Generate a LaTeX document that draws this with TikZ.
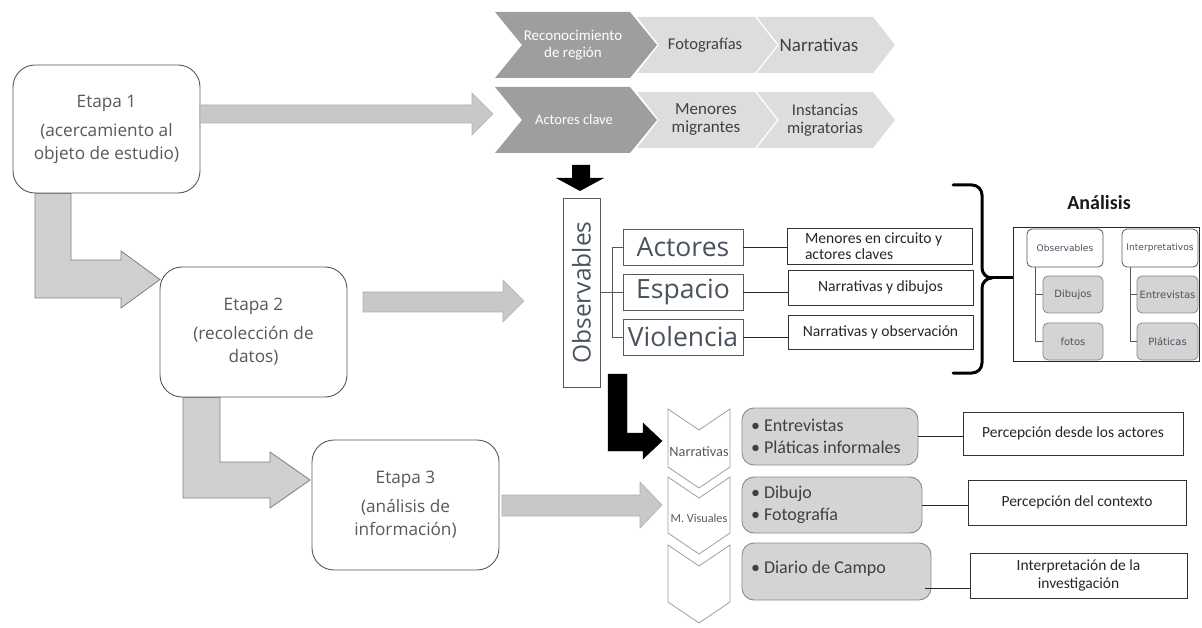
\documentclass[tikz,border=0pt]{standalone}
\usepackage{fontspec}
\setmainfont{Carlito}
\newfontfamily\osans{Open Sans}
\newfontfamily\dvs{DejaVu Sans}
\usetikzlibrary{calc}

\definecolor{chevdark}{HTML}{9E9E9E}
\definecolor{chevlight}{HTML}{DDDDDD}
\definecolor{blockfill}{HTML}{C8C8C8}
\definecolor{blockline}{HTML}{B0B0B0}
\definecolor{lfill}{HTML}{D0D0D0}
\definecolor{lline}{HTML}{7F7F7F}
\definecolor{txtgray}{HTML}{595959}
\definecolor{txtslate}{HTML}{4A535D}
\definecolor{boxfill}{HTML}{D4D4D4}
\definecolor{boxline}{HTML}{8A8A8A}

\newcommand{\fsz}[2]{\fontsize{#1}{#2}\selectfont}

\tikzset{
  plain/.style={inner sep=0pt, outer sep=0pt},
  etapabox/.style={plain, draw=txtgray, line width=0.9pt, rounded corners=22pt,
    fill=white, align=center, text=txtgray, font=\osans\fsz{17.2}{23}},
  obsbox/.style={plain, draw=txtgray, line width=0.9pt, fill=white},
  bigword/.style={plain, text=txtslate, font=\osans\fsz{24.5}{26}},
  catbox/.style={plain, draw=txtgray, line width=0.9pt, fill=white,
    text=txtslate, font=\osans\fsz{26.5}{28}},
  descbox/.style={plain, draw=black!80, line width=0.9pt, fill=white,
    text=black!85, font=\fsz{15.6}{16}},
  link/.style={draw=black!85, line width=0.9pt},
  darktxt/.style={plain, align=center, text=white, font=\fsz{15}{17}},
  lighttxt/.style={plain, align=center, text=black!75, font=\fsz{16.5}{18}},
  block/.style={fill=blockfill, draw=blockline, line width=0.6pt},
  lblock/.style={fill=lfill, draw=lline, line width=0.8pt},
  anaw/.style={plain, draw=txtgray, line width=0.8pt, fill=white, rounded corners=5pt,
    text=txtslate, font=\dvs\fsz{9.1}{10}},
  anag/.style={plain, draw=boxline, line width=0.8pt, fill=boxfill, rounded corners=5pt,
    text=txtslate, font=\dvs\fsz{10}{12}},
  chevlab/.style={plain, text=txtgray},
  graybox/.style={plain, draw=boxline, line width=0.9pt, fill=boxfill, rounded corners=12pt},
  graytxt/.style={plain, align=left, anchor=west, text=black!75, font=\fsz{18}{22}},
  percbox/.style={plain, draw=black!80, line width=0.9pt, fill=white, align=center,
    text=black!85, font=\fsz{15.5}{18}},
  vchev/.style={fill=white, draw=gray!75, line width=0.8pt},
}

\begin{document}
\begin{tikzpicture}[x=1pt, y=-1pt]
\useasboundingbox (0,0) rectangle (1202,628);

% ---------- top process chevrons ----------
\fill[chevdark] (495,12) -- (630,12) -- (657,45) -- (630,78) -- (495,78) -- (522,45) -- cycle;
\fill[chevlight] (637,17) -- (755,17) -- (777,45) -- (755,73) -- (637,73) -- (659,45) -- cycle;
\fill[chevlight] (757,17) -- (873,17) -- (895,45) -- (873,73) -- (757,73) -- (779,45) -- cycle;
\fill[chevdark] (495,87) -- (630,87) -- (657,120) -- (630,153) -- (495,153) -- (522,120) -- cycle;
\fill[chevlight] (637,92) -- (755,92) -- (777,120) -- (755,148) -- (637,148) -- (659,120) -- cycle;
\fill[chevlight] (757,92) -- (873,92) -- (895,120) -- (873,148) -- (757,148) -- (779,120) -- cycle;

\node[darktxt] (reco) at (573,45) {Reconocimiento\\de región};
\node[lighttxt] (foto) at (705,45) {Fotografías};
\node[lighttxt, font=\fsz{19}{20}] (narr) at (819,45) {Narrativas};
\node[darktxt, font=\fsz{14.5}{17}] (actc) at (574,120) {Actores clave};
\node[lighttxt, font=\fsz{17}{18}] (meno) at (706,120) {Menores\\migrantes};
\node[lighttxt] (inst) at (825,120) {Instancias\\migratorias};

% ---------- stages ----------
\node[etapabox, minimum width=187pt, minimum height=128pt] (e1) at (106.5,129)
  {Etapa 1\\[6pt](acercamiento al\\objeto de estudio)};
\node[etapabox, minimum width=187pt, minimum height=130pt] (e2) at (253.5,332)
  {Etapa 2\\[6pt](recolección de\\datos)};
\node[etapabox, minimum width=187pt, minimum height=130pt] (e3) at (405.5,505)
  {Etapa 3\\[6pt](análisis de\\información)};

% block arrows out of the stages
\draw[block] (200,105) -- (472,105) -- (472,93) -- (493,114) -- (472,135) -- (472,123) -- (200,123) -- cycle;
\draw[block] (363,292) -- (503,292) -- (503,280) -- (524,301) -- (503,322) -- (503,312) -- (363,312) -- cycle;
\draw[block] (502,495) -- (640,495) -- (640,482) -- (662,505) -- (640,528) -- (640,516) -- (502,516) -- cycle;

% bent arrows between stages
\draw[lblock] (35,193.5) -- (71,193.5) -- (71,260) -- (121,260) -- (121,251) -- (160,279.5) -- (121,308) -- (121,298) -- (35,298) -- cycle;
\draw[lblock] (183,397.5) -- (220,397.5) -- (220,462) -- (270,462) -- (270,452) -- (310,480) -- (270,508) -- (270,498) -- (183,498) -- cycle;

% ---------- observables ----------
\fill[black] (572,165) -- (590,165) -- (590,178) -- (604,178) -- (580,191) -- (556,178) -- (572,178) -- cycle;
\node[obsbox, minimum width=37pt, minimum height=189pt] (obs) at (581.5,292.5) {};
\node[bigword, rotate=90] (obslab) at (obs.center) {Observables};

\node[catbox, minimum width=120pt, minimum height=36pt] (act) at (683,247) {Actores};
\node[catbox, minimum width=120pt, minimum height=36pt] (esp) at (683,292) {Espacio};
\node[catbox, minimum width=120pt, minimum height=36pt] (vio) at (683,337) {Violencia};

\draw[link, draw=txtgray] (obs.east) -- (obs.east -| esp.west);
\draw[link, draw=txtgray] (act.west) -- ++(-11,0) |- (vio.west);

\node[descbox, minimum width=185pt, minimum height=36pt] (men) at (879.5,246) {};
\node[plain, align=left, anchor=west, text=black!85, font=\fsz{15.6}{15.5}] (mentxt) at (805,246)
  {Menores en circuito y\\actores claves};
\node[descbox, minimum width=185pt, minimum height=35pt] (nyd) at (880.5,287.5) {Narrativas y dibujos};
\node[descbox, minimum width=185pt, minimum height=34pt] (nyo) at (880.5,332) {Narrativas y observación};

\draw[link] (act.east) -- (act.east -| men.west);
\draw[link] (esp.east) -- (esp.east -| nyd.west);
\draw[link] (vio.east) -- (vio.east -| nyo.west);

% brace gathering the observables
\draw[line width=3pt, line cap=round, line join=round]
  (953,185) -- (972,185) to[out=0,in=90] (982,195) -- (982,268)
  to[out=-90,in=180] (992,278) to[out=180,in=90] (982,288) -- (982,363)
  to[out=-90,in=0] (972,373) -- (953,373);
\coordinate (btip) at (990,278);

% ---------- analysis block ----------
\node[plain, font=\bfseries\fsz{20}{22}, text=black!90] (anat) at (1099,203) {Análisis};
\node[plain, draw=black!85, line width=1pt, fill=white, minimum width=186pt, minimum height=133pt] (ana) at (1106,294.5) {};
\draw[line width=3pt] (btip) -- (btip -| ana.west);

\node[anaw, minimum width=76pt, minimum height=38pt] (aobs) at (1065,248) {Observables};
\node[anaw, minimum width=76pt, minimum height=38pt] (aint) at (1160,248) {Interpretativos};
\node[anag, minimum width=60pt, minimum height=37pt] (adib) at (1073,294.5) {Dibujos};
\node[anag, minimum width=60pt, minimum height=37pt] (afot) at (1073,341.5) {fotos};
\node[anag, minimum width=61pt, minimum height=37pt] (aent) at (1167.5,294.5) {Entrevistas};
\node[anag, minimum width=61pt, minimum height=37pt] (apla) at (1167.5,341.5) {Pláticas};

\draw[link, draw=txtgray] ($(aobs.south west)+(8,0)$) coordinate (ao) |- (afot.west);
\draw[link, draw=txtgray] (ao |- adib.west) -- (adib.west);
\draw[link, draw=txtgray] ($(aint.south west)+(8,0)$) coordinate (ai) |- (apla.west);
\draw[link, draw=txtgray] (ai |- aent.west) -- (aent.west);

% ---------- techniques ----------
\draw[black, fill=black] (608,374) -- (627,374) -- (627,433) -- (643,433) -- (643,423) -- (662,441) -- (643,459) -- (643,451) -- (608,451) -- cycle;

\draw[vchev] (668,409) -- (699,430) -- (730,409) -- (730,467) -- (699,488) -- (668,467) -- cycle;
\draw[vchev] (668,477) -- (699,498) -- (730,477) -- (730,533) -- (699,554) -- (668,533) -- cycle;
\draw[vchev] (668,545) -- (699,566) -- (730,545) -- (730,602) -- (699,623) -- (668,602) -- cycle;
\node[chevlab, font=\fsz{14.3}{15}] (cn) at (699,452) {Narrativas};
\node[chevlab, font=\fsz{12.2}{13}] (cv) at (699,518) {M. Visuales};

\node[graybox, minimum width=176pt, minimum height=57pt] (gb1) at (830,436.5) {};
\node[graybox, minimum width=180pt, minimum height=56pt] (gb2) at (832,505) {};
\node[graybox, minimum width=189pt, minimum height=57pt] (gb3) at (836.5,571.5) {};
\node[graytxt] (gt1) at (751,436.5) {• Entrevistas\\• Pláticas informales};
\node[graytxt] (gt2) at (751,505) {• Dibujo\\• Fotografía};
\node[graytxt] (gt3) at (751,569) {• Diario de Campo};

\node[percbox, minimum width=220pt, minimum height=43pt] (p1) at (1073,433.5) {Percepción desde los actores};
\node[percbox, minimum width=218pt, minimum height=45pt] (p2) at (1077,502.5) {Percepción del contexto};
\node[percbox, minimum width=217pt, minimum height=45pt] (p3) at (1078.5,575.5) {Interpretación de la\\investigación};

\draw[link] (gb1.east) -- (gb1.east -| p1.west);
\draw[link] (gb2.east) -- (gb2.east -| p2.west);
\draw[link] ($(gb3.south east)+(-6,-12)$) coordinate (g3) -- (g3 -| p3.west);

\end{tikzpicture}
\end{document}
